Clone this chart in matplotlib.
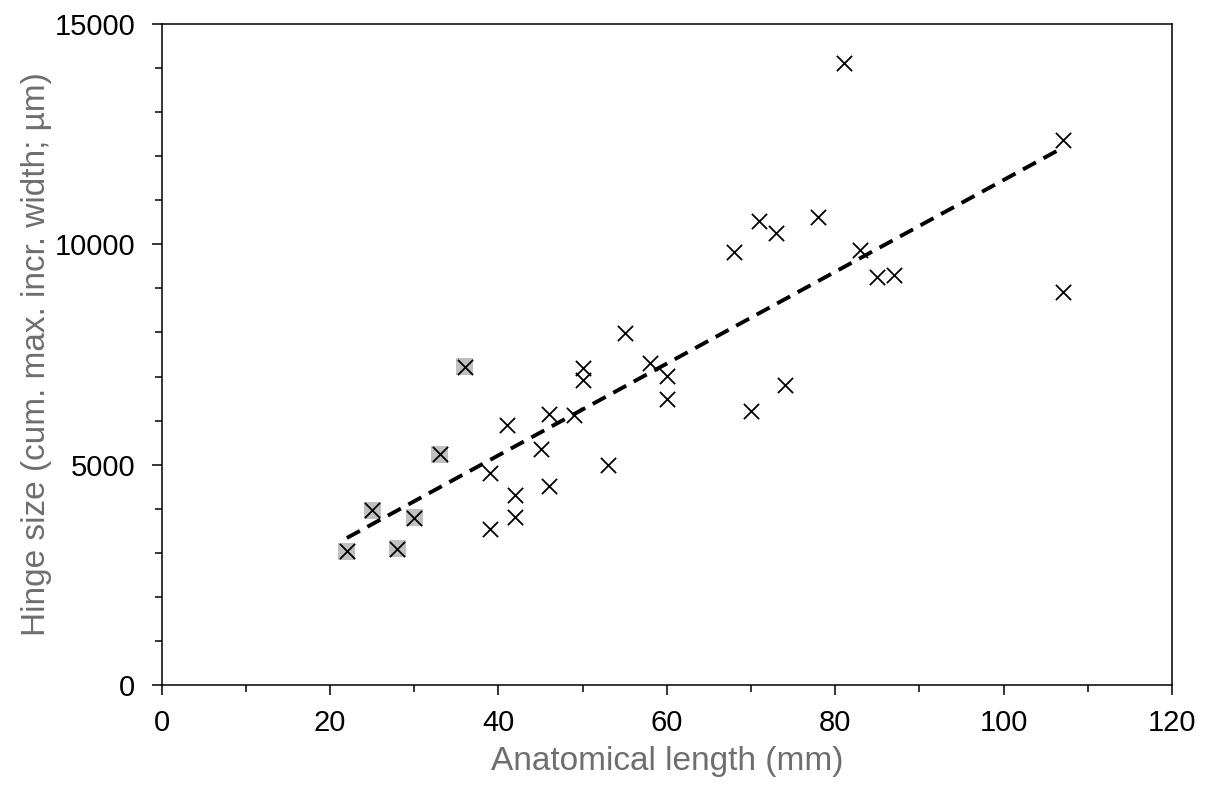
import numpy as np
import matplotlib
matplotlib.use('Agg')
import matplotlib.pyplot as plt
from matplotlib.ticker import MultipleLocator

plt.rcParams['font.family'] = ['Liberation Sans', 'DejaVu Sans']

# Juvenile specimens (shaded squares)
juv_length = [22, 25, 28, 30, 33, 36]
juv_hinge = [3040, 3970, 3090, 3790, 5240, 7220]

# Remaining specimens
adult_length = [39, 39, 41, 42, 42, 45, 46, 46, 49, 50, 50, 53, 55, 58, 60, 60,
                68, 70, 71, 73, 74, 78, 81, 83, 85, 87, 107, 107]
adult_hinge = [4810, 3540, 5900, 4310, 3810, 5350, 6150, 4520, 6130, 7190, 6920,
               4990, 7990, 7310, 7010, 6490, 9830, 6220, 10530, 10260, 6810, 10620,
               14110, 9870, 9260, 9300, 12370, 8920]

length = np.array(juv_length + adult_length, dtype=float)
hinge = np.array(juv_hinge + adult_hinge, dtype=float)
slope, intercept = np.polyfit(length, hinge, 1)

fig = plt.figure(figsize=(12.11, 7.89), dpi=100)
ax = fig.add_axes([0.1335, 0.1318, 0.8343, 0.8378])

ax.scatter(juv_length, juv_hinge, marker='s', s=150, color='#c0c0c0',
           edgecolors='none', zorder=2)
ax.scatter(length, hinge, marker='x', s=120, color='black', linewidths=1.3,
           zorder=3)

xfit = np.array([length.min(), length.max()])
ax.plot(xfit, slope * xfit + intercept, color='black', lw=2.8,
        dashes=(3.8, 2.2), zorder=4)

ax.set_xlim(0, 120)
ax.set_ylim(0, 15000)
ax.xaxis.set_major_locator(MultipleLocator(20))
ax.xaxis.set_minor_locator(MultipleLocator(10))
ax.yaxis.set_major_locator(MultipleLocator(5000))
ax.yaxis.set_minor_locator(MultipleLocator(1000))
ax.tick_params(which='major', direction='out', length=7, width=1.1,
               labelsize=21)
ax.tick_params(which='minor', direction='out', length=5, width=1.1)
ax.tick_params(axis='x', which='major', pad=10)
ax.tick_params(axis='y', which='major', pad=12)
for s in ax.spines.values():
    s.set_linewidth(1.1)

ax.set_xlabel('Anatomical length (mm)', fontsize=24, color='#6e6e6e', labelpad=7)
ax.set_ylabel('Hinge size (cum. max. incr. width; µm)', fontsize=24,
              color='#6e6e6e', labelpad=2)

fig.savefig('out.png', dpi=100)
